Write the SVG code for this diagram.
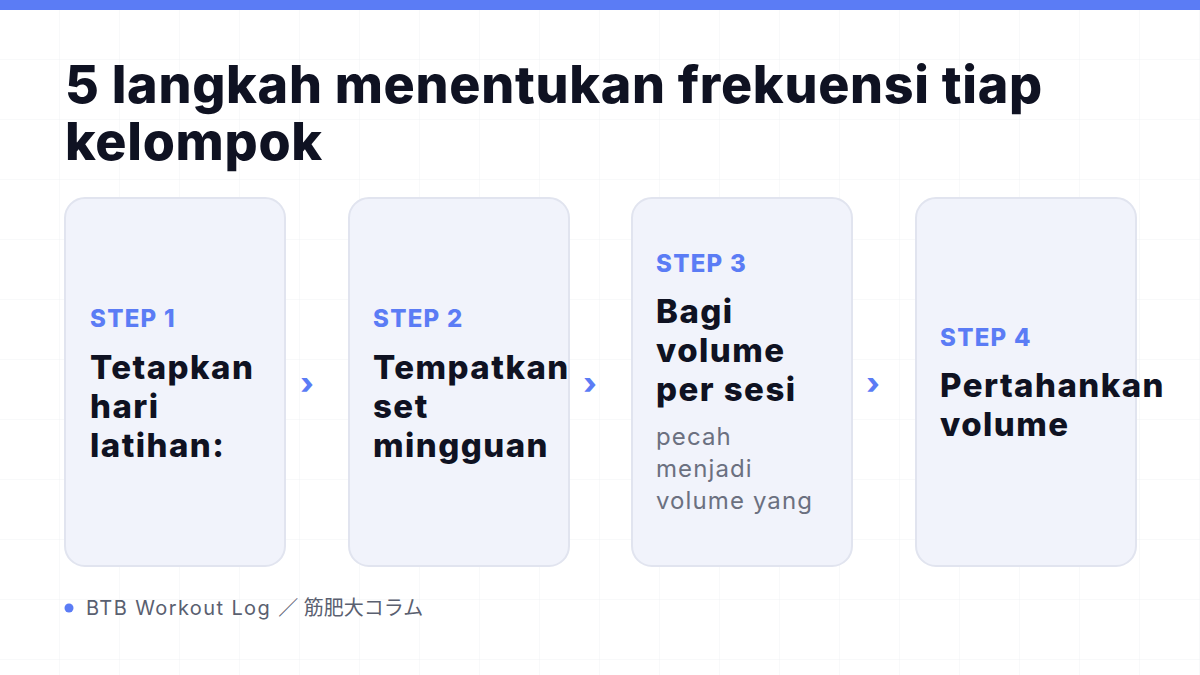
<svg xmlns="http://www.w3.org/2000/svg" width="1200" height="675" viewBox="0 0 1200 675">
<defs>
<pattern id="grid" width="60" height="60" patternUnits="userSpaceOnUse">
<path d="M60 0V60M0 60H60" fill="none" stroke="#f1f2f5" stroke-width="1"/>
</pattern>
<style>
.card{fill:#f1f3fb;stroke:#e1e4ef;stroke-width:2}
.step{font-family:Inter,"Liberation Sans",sans-serif;font-weight:800;font-size:24px;letter-spacing:1.3px;fill:#5b7cf5}
.ttl{font-family:Inter,"Liberation Sans",sans-serif;font-weight:800;font-size:33px;letter-spacing:1.45px;fill:#0f1222}
.sub{font-family:Inter,"Liberation Sans",sans-serif;font-weight:400;font-size:24px;letter-spacing:1.1px;fill:#6b7080}
.chev{font-family:Inter,"Liberation Sans",sans-serif;font-weight:800;font-size:30px;fill:#5b7cf5}
</style>
</defs>
<rect width="1200" height="675" fill="#ffffff"/>
<rect width="1200" height="675" fill="url(#grid)"/>
<rect width="1200" height="10" fill="#5b7cf5"/>
<g id="title">
<text font-family="Inter,'Liberation Sans',sans-serif" font-weight="800" font-size="52" letter-spacing="0.7" fill="#0f1222"><tspan x="65" y="103">5 langkah menentukan frekuensi tiap</tspan><tspan x="65" y="160">kelompok</tspan></text>
</g>
<g id="step1">
<rect class="card" x="65" y="198" width="220" height="368" rx="20"/>
<text class="step" x="90" y="327">STEP 1</text>
<text class="ttl"><tspan x="90" y="379">Tetapkan</tspan><tspan x="90" y="418">hari</tspan><tspan x="90" y="457">latihan:</tspan></text>
</g>
<g id="step2">
<rect class="card" x="349" y="198" width="220" height="368" rx="20"/>
<text class="step" x="373" y="327">STEP 2</text>
<text class="ttl"><tspan x="373" y="379">Tempatkan</tspan><tspan x="373" y="418">set</tspan><tspan x="373" y="457">mingguan</tspan></text>
</g>
<g id="step3">
<rect class="card" x="632" y="198" width="220" height="368" rx="20"/>
<text class="step" x="656" y="272">STEP 3</text>
<text class="ttl"><tspan x="656" y="323">Bagi</tspan><tspan x="656" y="362">volume</tspan><tspan x="656" y="401">per sesi</tspan></text>
<text class="sub"><tspan x="656" y="445">pecah</tspan><tspan x="656" y="477">menjadi</tspan><tspan x="656" y="509">volume yang</tspan></text>
</g>
<g id="step4">
<rect class="card" x="916" y="198" width="220" height="368" rx="20"/>
<text class="step" x="940" y="346">STEP 4</text>
<text class="ttl"><tspan x="940" y="397">Pertahankan</tspan><tspan x="940" y="436">volume</tspan></text>
</g>
<g id="connectors">
<text class="chev" x="307" y="394" text-anchor="middle">›</text>
<text class="chev" x="590" y="394" text-anchor="middle">›</text>
<text class="chev" x="873" y="394" text-anchor="middle">›</text>
</g>
<g id="footer">
<circle cx="69" cy="608" r="4.5" fill="#5b7cf5"/>
<text x="86" y="615" font-family="Inter,'Liberation Sans','Noto Sans CJK JP',sans-serif" font-size="20" fill="#5a6070"><tspan letter-spacing="1.4">BTB Workout Log </tspan><tspan>／ 筋肥大コラム</tspan></text>
</g>
</svg>
